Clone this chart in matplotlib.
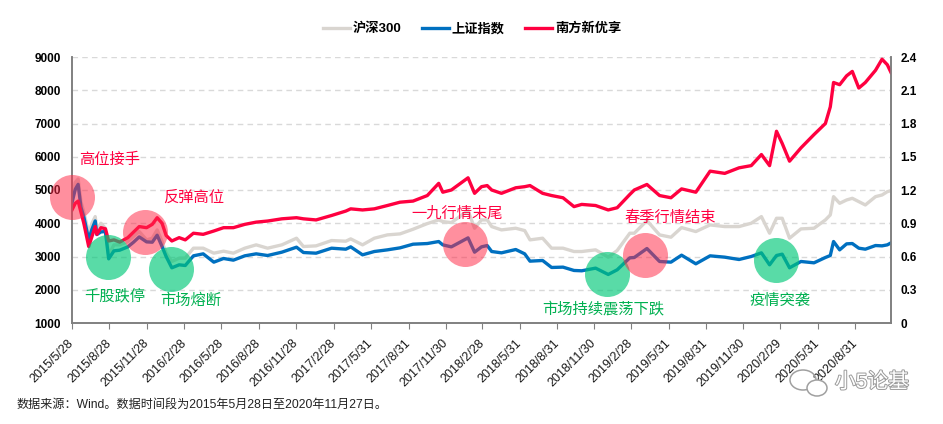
import matplotlib
matplotlib.use("Agg")
import matplotlib.pyplot as plt
import matplotlib.patheffects as pe
from matplotlib.patches import Ellipse
import pandas as pd

plt.rcParams["font.family"] = ["Liberation Sans", "Noto Sans CJK SC"]

# ---- 数据 ----
dates = ["2015-05-28", "2015-06-05", "2015-06-12", "2015-06-19", "2015-06-26", "2015-07-08",
         "2015-07-16", "2015-07-24", "2015-07-28", "2015-08-07", "2015-08-18", "2015-08-26",
         "2015-09-08", "2015-09-22", "2015-10-12", "2015-10-26", "2015-11-09", "2015-11-27",
         "2015-12-11", "2015-12-23", "2016-01-04", "2016-01-14", "2016-01-28", "2016-02-15",
         "2016-03-01", "2016-03-21", "2016-04-14", "2016-05-10", "2016-06-03", "2016-06-27",
         "2016-07-25", "2016-08-22", "2016-09-19", "2016-10-24", "2016-11-29", "2016-12-16",
         "2017-01-16", "2017-02-23", "2017-03-30", "2017-04-11", "2017-05-10", "2017-06-08",
         "2017-07-10", "2017-08-10", "2017-09-11", "2017-10-16", "2017-11-13", "2017-11-23",
         "2017-12-14", "2018-01-24", "2018-02-09", "2018-02-26", "2018-03-12", "2018-03-23",
         "2018-04-16", "2018-05-21", "2018-06-12", "2018-06-25", "2018-07-26", "2018-08-17",
         "2018-09-14", "2018-10-11", "2018-10-30", "2018-12-03", "2019-01-03", "2019-01-25",
         "2019-02-25", "2019-03-08", "2019-04-08", "2019-05-09", "2019-06-06", "2019-07-02",
         "2019-08-06", "2019-09-10", "2019-10-16", "2019-11-20", "2019-12-20", "2020-01-14",
         "2020-02-03", "2020-02-20", "2020-03-05", "2020-03-23", "2020-04-20", "2020-05-22",
         "2020-06-19", "2020-07-01", "2020-07-09", "2020-07-24", "2020-08-10", "2020-08-24",
         "2020-09-09", "2020-09-25", "2020-10-20", "2020-11-05", "2020-11-18", "2020-11-27"]

hs300 = [4620, 5230, 5330, 4640, 4330, 3700, 4000, 4200, 3800, 4000,
         3850, 3050, 3350, 3350, 3450, 3600, 3750, 3500, 3550, 3800,
         3450, 3100, 2850, 2950, 2950, 3250, 3250, 3100, 3160, 3100,
         3250, 3350, 3250, 3350, 3550, 3300, 3320, 3480, 3460, 3530,
         3350, 3550, 3650, 3680, 3820, 3990, 4100, 4050, 4020, 4380,
         3850, 4100, 4100, 3900, 3800, 3850, 3780, 3500, 3550, 3250,
         3250, 3150, 3150, 3200, 2980, 3180, 3700, 3700, 4080, 3650,
         3580, 3870, 3750, 3950, 3900, 3900, 4000, 4200, 3700, 4150,
         4150, 3550, 3830, 3850, 4100, 4250, 4800, 4600, 4700, 4750,
         4650, 4550, 4800, 4850, 4950, 4980]

sh_index = [4620, 5020, 5170, 4480, 4190, 3510, 3820, 4070, 3660, 3740,
            3750, 2930, 3170, 3190, 3290, 3430, 3590, 3440, 3430, 3640,
            3300, 3000, 2660, 2750, 2730, 3020, 3080, 2830, 2940, 2890,
            3020, 3080, 3030, 3130, 3280, 3120, 3100, 3250, 3220, 3290,
            3050, 3150, 3200, 3260, 3370, 3390, 3450, 3350, 3290, 3560,
            3130, 3290, 3330, 3150, 3110, 3210, 3080, 2860, 2880, 2670,
            2680, 2580, 2570, 2650, 2460, 2600, 2960, 2970, 3240, 2850,
            2830, 3040, 2780, 3020, 2980, 2910, 3000, 3110, 2750, 3030,
            3070, 2660, 2850, 2810, 2970, 3030, 3450, 3200, 3380, 3390,
            3250, 3220, 3330, 3320, 3350, 3410]

nf_fund = [1.02, 1.08, 1.10, 1.00, 0.90, 0.69, 0.78, 0.87, 0.80, 0.86,
           0.85, 0.74, 0.75, 0.73, 0.77, 0.82, 0.87, 0.86, 0.89, 0.95,
           0.90, 0.79, 0.74, 0.77, 0.75, 0.81, 0.80, 0.83, 0.86, 0.86,
           0.89, 0.91, 0.92, 0.94, 0.95, 0.94, 0.93, 0.97, 1.01, 1.03,
           1.02, 1.03, 1.06, 1.09, 1.10, 1.15, 1.26, 1.18, 1.20, 1.31,
           1.17, 1.23, 1.24, 1.20, 1.17, 1.22, 1.23, 1.24, 1.17, 1.15,
           1.13, 1.05, 1.07, 1.06, 1.02, 1.04, 1.16, 1.20, 1.25, 1.15,
           1.13, 1.21, 1.18, 1.37, 1.35, 1.40, 1.42, 1.52, 1.42, 1.73,
           1.62, 1.46, 1.58, 1.70, 1.80, 1.95, 2.17, 2.15, 2.23, 2.27,
           2.12, 2.17, 2.28, 2.38, 2.33, 2.26]

tick_dates = ["2015-05-28", "2015-08-28", "2015-11-28", "2016-02-28", "2016-05-28", "2016-08-28",
              "2016-11-28", "2017-02-28", "2017-05-31", "2017-08-31", "2017-11-30", "2018-02-28",
              "2018-05-31", "2018-08-31", "2018-11-30", "2019-02-28", "2019-05-31", "2019-08-31",
              "2019-11-30", "2020-02-29", "2020-05-31", "2020-08-31"]
tick_labels = ["2015/5/28", "2015/8/28", "2015/11/28", "2016/2/28", "2016/5/28", "2016/8/28",
               "2016/11/28", "2017/2/28", "2017/5/31", "2017/8/31", "2017/11/30", "2018/2/28",
               "2018/5/31", "2018/8/31", "2018/11/30", "2019/2/28", "2019/5/31", "2019/8/31",
               "2019/11/30", "2020/2/29", "2020/5/31", "2020/8/31"]

# 事件圈：位置（日期, 左轴点位）、类型
event_dates = ["2015-05-28", "2015-08-24", "2015-11-22", "2016-01-25",
               "2018-01-17", "2018-12-31", "2019-04-03", "2020-02-18"]
event_levels = [4790, 3000, 3737, 2624, 3361, 2459, 3045, 2895]
event_kinds = ["up", "down", "up", "down", "up", "down", "up", "down"]
event_texts = ["高位接手", "千股跌停", "反弹高位", "市场熔断",
               "一九行情末尾", "市场持续震荡下跌", "春季行情结束", "疫情突袭"]
text_dates = ["2015-08-29", "2015-09-10", "2016-03-22", "2016-03-15",
              "2017-12-29", "2018-12-22", "2019-06-04", "2020-02-28"]
text_levels = [5903, 1812, 4790, 1662, 4279, 1421, 4158, 1662]

RED = "#FF0040"
BLUE = "#0070C0"
GRAY = "#D9D5D0"
GREEN_TXT = "#00B050"
AXIS = "#808080"

x = pd.to_datetime(dates)

fig = plt.figure(figsize=(9.43, 4.24), dpi=100)
ax = fig.add_axes([72 / 943, 1 - 323 / 424, 819 / 943, 266 / 424])
ax2 = ax.twinx()

l1, = ax.plot(x, hs300, color=GRAY, lw=2.4, label="沪深300", zorder=2)
l2, = ax.plot(x, sh_index, color=BLUE, lw=2.4, label="上证指数", zorder=3)
l3, = ax2.plot(x, nf_fund, color=RED, lw=2.4, label="南方新优享", zorder=2)

# 事件圆圈（画在上层，按左轴坐标定位）
circle_colors = {"up": "#FF2846", "down": "#00C878"}
circle_alpha = {"up": 0.52, "down": 0.65}
for d, lv, k in zip(event_dates, event_levels, event_kinds):
    ax2.scatter([pd.Timestamp(d)], [lv], s=1050, color=circle_colors[k], alpha=circle_alpha[k],
                linewidths=0, transform=ax.transData, zorder=5, clip_on=False)

for t, d, lv, k in zip(event_texts, text_dates, text_levels, event_kinds):
    ax.text(pd.Timestamp(d), lv, t, color=RED if k == "up" else GREEN_TXT,
            fontsize=11, fontweight="medium", ha="center", va="center", zorder=6)

ax.set_xlim(pd.Timestamp("2015-05-28"), pd.Timestamp("2020-11-27"))
ax.set_ylim(1000, 9000)
ax2.set_ylim(0, 2.4)

ax.set_yticks(range(1000, 9001, 1000))
ax.set_yticklabels([str(v) for v in range(1000, 9001, 1000)], fontsize=8.5,
                   fontweight="bold", color="black")
r_ticks = [0, 0.3, 0.6, 0.9, 1.2, 1.5, 1.8, 2.1, 2.4]
ax2.set_yticks(r_ticks)
ax2.set_yticklabels(["0"] + [f"{v:.1f}" for v in r_ticks[1:]], fontsize=8.5,
                    fontweight="bold", color="black")

ax.set_xticks(pd.to_datetime(tick_dates))
ax.set_xticklabels(tick_labels, rotation=45, ha="right", va="center",
                   rotation_mode="anchor", fontsize=9, color="#1a1a1a")

ax.grid(axis="y", color="#D9D9D9", linestyle=(0, (4, 3)), lw=1)
ax.set_axisbelow(True)

for a in (ax, ax2):
    a.spines["top"].set_visible(False)
    for s in ("left", "right", "bottom"):
        a.spines[s].set_color(AXIS)
        a.spines[s].set_linewidth(1.2)
ax.tick_params(axis="y", length=0, pad=8)
ax2.tick_params(axis="y", length=0, pad=7)
ax.tick_params(axis="x", length=4, color=AXIS, pad=9)

fig.legend([l1, l2, l3], ["沪深300", "上证指数", "南方新优享"], loc="center",
           bbox_to_anchor=(472 / 943, 1 - 29 / 424), ncol=3, frameon=False,
           prop={"size": 9.5, "weight": "bold"}, handlelength=2.1, handletextpad=0.2,
           columnspacing=1.5)

fig.text(17 / 943, 1 - 405 / 424, "数据来源：Wind。数据时间段为2015年5月28日至2020年11月27日。",
         fontsize=8.7, ha="left", va="center", color="#222222")

# 水印
fig.add_artist(Ellipse((803 / 943, 1 - 380 / 424), 26 / 943, 20 / 424, fill=False,
                       ec="#A0A0A0", lw=1.1, transform=fig.transFigure))
fig.add_artist(Ellipse((817 / 943, 1 - 388 / 424), 20 / 943, 16 / 424, fc="white",
                       ec="#A0A0A0", lw=1.1, transform=fig.transFigure))
fig.text(872 / 943, 1 - 382 / 424, "小5论基", fontsize=15, ha="center", va="center",
         color="white", path_effects=[pe.withStroke(linewidth=1.4, foreground="#9A9A9A")])

fig.savefig("out.png", dpi=100)
